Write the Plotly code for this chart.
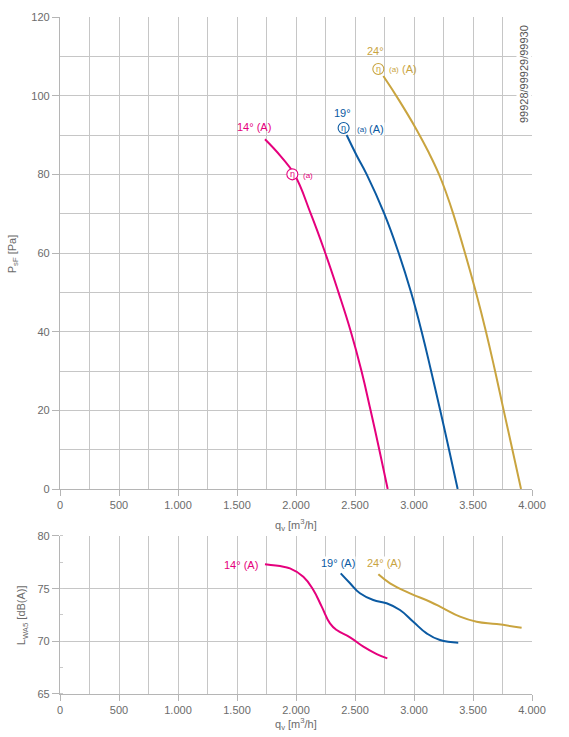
import plotly.graph_objects as go

# ---------------- data ----------------
# Pressure curves (top chart): q_v [m3/h] vs P_sF [Pa]
q_14 = [1737, 1873, 1986, 2125, 2248, 2360, 2465, 2555, 2632, 2706, 2777]
p_14 = [88.9, 84.5, 80, 70, 60, 50, 40, 30, 20, 10, 0]

q_19 = [2429, 2514, 2599, 2748, 2870, 2975, 3065, 3145, 3222, 3297, 3370]
p_19 = [90, 84.8, 80, 70, 60, 50, 40, 30, 20, 10, 0]

q_24 = [2740, 2870, 3023, 3124, 3212, 3276, 3332, 3432, 3525, 3610, 3687, 3760, 3834, 3907]
p_24 = [105, 99, 91.3, 85.6, 80, 75, 70, 60, 50, 40, 30, 20, 10, 0]

# Sound power curves (bottom chart): q_v [m3/h] vs L_WA5 [dB(A)]
lq_14 = [1737, 1893, 1949, 2062, 2147, 2218, 2288, 2345, 2458, 2571, 2684, 2774]
lw_14 = [77.31, 77.08, 76.93, 76.14, 74.87, 73.29, 71.71, 71.07, 70.38, 69.49, 68.79, 68.38]

lq_19 = [2379, 2458, 2542, 2655, 2768, 2881, 2994, 3107, 3220, 3375]
lw_19 = [76.45, 75.51, 74.56, 73.92, 73.61, 72.97, 71.86, 70.76, 70.12, 69.87]

lq_24 = [2698, 2797, 2966, 3136, 3249, 3390, 3531, 3701, 3912]
lw_24 = [76.36, 75.51, 74.56, 73.76, 73.13, 72.34, 71.86, 71.64, 71.29]

# Tick labels
x_tickvals = [0, 500, 1000, 1500, 2000, 2500, 3000, 3500, 4000]
x_ticktext = ["0", "500", "1.000", "1.500", "2.000", "2.500", "3.000", "3.500", "4.000"]
y1_tickvals = [0, 20, 40, 60, 80, 100, 120]
y1_ticktext = ["0", "20", "40", "60", "80", "100", "120"]
y2_tickvals = [65, 70, 75, 80]
y2_ticktext = ["65", "70", "75", "80"]

# ---------------- style ----------------
C14 = "#e5007d"
C19 = "#0b5aa2"
C24 = "#c9a43f"
GRID = "#c6c6c6"
TXT = "#6b6b6b"
FONT = "Liberation Sans, Arial, sans-serif"

fig = go.Figure()

def line(x, y, c, xa, ya):
    fig.add_trace(go.Scatter(x=x, y=y, mode="lines", xaxis=xa, yaxis=ya,
                             line=dict(color=c, width=2, shape="spline", smoothing=1.3),
                             hoverinfo="skip", showlegend=False))

line(q_14, p_14, C14, "x", "y")
line(q_19, p_19, C19, "x", "y")
line(q_24, p_24, C24, "x", "y")
line(lq_14, lw_14, C14, "x2", "y2")
line(lq_19, lw_19, C19, "x2", "y2")
line(lq_24, lw_24, C24, "x2", "y2")

xaxis_common = dict(
    range=[0, 4000], tickmode="array", tickvals=x_tickvals, ticktext=x_ticktext,
    showgrid=True, gridcolor=GRID, gridwidth=1.2, zeroline=False,
    showline=True, linecolor="#b5b5b5", linewidth=1.2,
    ticks="outside", ticklen=6, tickcolor="#b5b5b5", tickwidth=1.2,
    tickfont=dict(size=11, color=TXT, family=FONT),
    minor=dict(tickmode="linear", tick0=0, dtick=250, showgrid=True,
               gridcolor=GRID, gridwidth=1.2, ticks=""),
)

fig.update_layout(
    width=569, height=737,
    margin=dict(l=60, r=37, t=17, b=43),
    paper_bgcolor="white", plot_bgcolor="white",
    font=dict(family=FONT, color=TXT, size=11),
    xaxis=dict(**xaxis_common, domain=[0, 1], anchor="y"),
    yaxis=dict(domain=[0.3028, 1], range=[0, 120], anchor="x",
               tickmode="array", tickvals=y1_tickvals, ticktext=y1_ticktext,
               showgrid=True, gridcolor=GRID, gridwidth=1.2, zeroline=False,
               showline=True, linecolor="#b5b5b5", linewidth=1.2,
               ticks="outside", ticklen=7, tickcolor="#b5b5b5", tickwidth=1.2,
               tickfont=dict(size=11, color=TXT, family=FONT),
               minor=dict(tickmode="linear", tick0=0, dtick=10, showgrid=True,
                          gridcolor=GRID, gridwidth=1.2, ticks="")),
    xaxis2=dict(**xaxis_common, domain=[0, 1], anchor="y2"),
    yaxis2=dict(domain=[0, 0.2334], range=[65, 80], anchor="x2",
                tickmode="array", tickvals=y2_tickvals, ticktext=y2_ticktext,
                showgrid=True, gridcolor=GRID, gridwidth=1.2, zeroline=False,
                showline=True, linecolor="#b5b5b5", linewidth=1.2,
                ticks="outside", ticklen=7, tickcolor="#b5b5b5", tickwidth=1.2,
                tickfont=dict(size=11, color=TXT, family=FONT),
                minor=dict(tickmode="linear", tick0=65, dtick=2.5, showgrid=False,
                           ticks="inside", ticklen=3, tickcolor="#c9c9c9")),
)

annotations = []
shapes = []

def ann(text, x, y, dx, dy, color, size=11, xref="x", yref="y", bg=None, xanchor="center"):
    d = dict(text=text, x=x, y=y, xref=xref, yref=yref, xshift=dx, yshift=dy,
             showarrow=False, xanchor=xanchor, yanchor="middle",
             font=dict(size=size, color=color, family=FONT))
    if bg:
        d["bgcolor"] = bg
        d["borderpad"] = 0
    annotations.append(d)

def eta(x, y, dx, dy, color, xref="x", yref="y"):
    r = 5.5
    shapes.append(dict(type="circle", xref=xref, yref=yref, xsizemode="pixel", ysizemode="pixel",
                       xanchor=x, yanchor=y, x0=dx - r, x1=dx + r, y0=dy - r, y1=dy + r,
                       line=dict(color=color, width=1.1), fillcolor="white", layer="above"))
    ann("η", x, y, dx, dy + 0.5, color, size=9, xref=xref, yref=yref)

# 14° labels (top)
ann("14° (A)", q_14[0], p_14[0], -10.5, 12.6, C14)
eta(q_14[2], p_14[2], -2, 0, C14)
ann("(a)", q_14[2], p_14[2], 14, -1, C14, size=8)

# 19° labels (top)
ann("19°", q_19[0], p_19[0], -4, 22, C19)
eta(q_19[0], p_19[0], -3, 7, C19)
ann("(a)", q_19[0], p_19[0], 15, 6, C19, size=8, bg="white")
ann("(A)", q_19[0], p_19[0], 29.5, 6.5, C19, bg="white")

# 24° labels (top)
ann("24°", q_24[0], p_24[0], -8, 25, C24)
eta(q_24[0], p_24[0], -5, 7, C24)
ann("(a)", q_24[0], p_24[0], 10.5, 6.5, C24, size=8)
ann("(A)", q_24[0], p_24[0], 26, 7, C24)

# bottom labels
ann("14° (A)", lq_14[0], lw_14[0], -5, -0.7, C14, xref="x2", yref="y2", xanchor="right")
ann("19° (A)", lq_19[0], lw_19[0], -2.5, 10, C19, xref="x2", yref="y2", bg="white")
ann("24° (A)", lq_24[0], lw_24[0], 6, 11, C24, xref="x2", yref="y2", bg="white")

# axis titles
ann("q<sub>v</sub> [m<sup>3</sup>/h]", 0.5, 0.2500, 0, 0, TXT, size=11, xref="paper", yref="paper")
ann("q<sub>v</sub> [m<sup>3</sup>/h]", 0.5, -0.0450, 0, 0, TXT, size=11, xref="paper", yref="paper")
annotations.append(dict(text="P<sub>sF</sub> [Pa]", x=-0.0996, y=0.651, xref="paper", yref="paper",
                        textangle=-90, showarrow=False, xanchor="center", yanchor="middle",
                        font=dict(size=11, color=TXT, family=FONT)))
annotations.append(dict(text="L<sub>WA5</sub> [dB(A)]", x=-0.08, y=0.1167, xref="paper", yref="paper",
                        textangle=-90, showarrow=False, xanchor="center", yanchor="middle",
                        font=dict(size=11, color=TXT, family=FONT)))
# identifier
annotations.append(dict(text="99928/99929/99930", x=0.982, y=0.915, xref="paper", yref="paper",
                        textangle=-90, showarrow=False, xanchor="center", yanchor="middle",
                        bgcolor="white", font=dict(size=11, color="#555555", family=FONT)))

fig.update_layout(annotations=annotations, shapes=shapes)
fig.write_html("out.html")
